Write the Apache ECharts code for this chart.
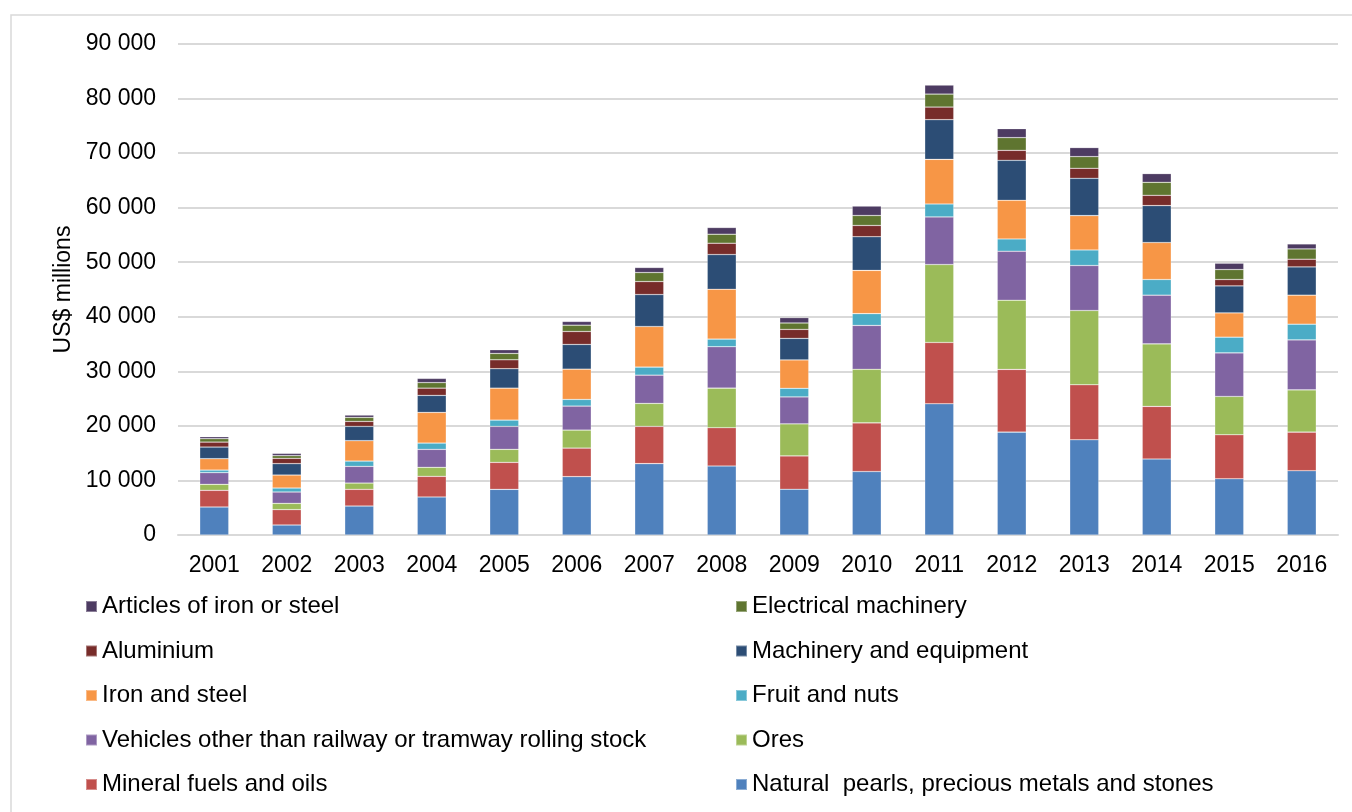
<!DOCTYPE html>
<html>
<head>
<meta charset="utf-8">
<script src="https://cdn.jsdelivr.net/npm/echarts@6/dist/echarts.min.js"></script>
<style>
html,body{margin:0;padding:0;background:#fff;}
#chart{width:1352px;height:812px;}
</style>
</head>
<body>
<div id="chart"></div>
<script>
const years = ['2001','2002','2003','2004','2005','2006','2007','2008','2009','2010','2011','2012','2013','2014','2015','2016'];
const yTicks = [0, 10000, 20000, 30000, 40000, 50000, 60000, 70000, 80000, 90000];

const naturalPearls = [5130,1830,5310,6960,8370,10700,13080,12640,8390,11630,24050,18860,17450,13920,10310,11780];
const mineralFuels  = [3060,2820,3060,3790,4940,5230,6830,7030,6110,8920,11240,11490,10080,9650,8060,7080];
const ores          = [1100,1150,1150,1650,2390,3300,4210,7250,5870,9820,14290,12690,13620,11470,7030,7750];
const vehicles      = [2140,2080,3060,3300,4210,4400,5180,7590,4940,8050,8720,8970,8250,8920,7990,9160];
const fruitNuts     = [470,730,970,1150,1150,1220,1470,1390,1580,2150,2380,2260,2850,2870,2870,2870];
const ironSteel     = [2090,2380,3740,5620,5860,5550,7450,9150,5200,7930,8180,7080,6300,6780,4450,5320];
const machinery     = [2130,2090,2620,3120,3560,4530,5860,6360,3950,6170,7270,7330,6830,6770,4950,5180];
const aluminium     = [910,970,910,1330,1640,2380,2380,2070,1650,2070,2310,1830,1840,1890,1170,1410];
const electrical    = [630,490,740,1010,1160,1150,1650,1650,1170,1830,2380,2330,2140,2380,1830,1890];
const articles      = [360,420,420,770,680,680,920,1230,980,1720,1650,1640,1650,1590,1160,910];

const seriesDefs = [
  {name:'Natural  pearls, precious metals and stones', data:naturalPearls, color:'#4F81BD'},
  {name:'Mineral fuels and oils', data:mineralFuels, color:'#C0504D'},
  {name:'Ores', data:ores, color:'#9BBB59'},
  {name:'Vehicles other than railway or tramway rolling stock', data:vehicles, color:'#8064A2'},
  {name:'Fruit and nuts', data:fruitNuts, color:'#4BACC6'},
  {name:'Iron and steel', data:ironSteel, color:'#F79646'},
  {name:'Machinery and equipment', data:machinery, color:'#2C4D75'},
  {name:'Aluminium', data:aluminium, color:'#772C2A'},
  {name:'Electrical machinery', data:electrical, color:'#5F7530'},
  {name:'Articles of iron or steel', data:articles, color:'#4D3B62'}
];

const legendLeft = ['Articles of iron or steel','Aluminium','Iron and steel','Vehicles other than railway or tramway rolling stock','Mineral fuels and oils'];
const legendRight = ['Electrical machinery','Machinery and equipment','Fruit and nuts','Ores','Natural  pearls, precious metals and stones'];

const FONT = 'Liberation Sans, Arial, sans-serif';
const FS = 23;

const chart = echarts.init(document.getElementById('chart'), null, {renderer:'canvas'});
const legendCommon = {
  orient:'vertical', top:594.5, padding:0, itemWidth:11, itemHeight:11, itemGap:20.5, icon:'rect',
  textStyle:{fontFamily:FONT, fontSize:24, color:'#000', lineHeight:24},
  selectedMode:false
};
chart.setOption({
  backgroundColor:'#fff',
  animation:false,
  graphic:[{type:'rect', shape:{x:11, y:15, width:1400, height:900}, style:{fill:'none', stroke:'#d9d9d9', lineWidth:1.5}, silent:true}],
  grid:{left:178, right:14, top:44, bottom:277, containLabel:false},
  legend:[
    Object.assign({left:85, data:legendLeft}, legendCommon),
    Object.assign({left:735, data:legendRight}, legendCommon)
  ],
  xAxis:{
    type:'category', data:years,
    axisLine:{lineStyle:{color:'#d9d9d9', width:2}},
    axisTick:{show:false},
    axisLabel:{fontFamily:FONT, fontSize:FS, color:'#000', margin:19}
  },
  yAxis:{
    type:'value', min:yTicks[0], max:yTicks[yTicks.length-1], interval:10000,
    name:'US$ millions', nameLocation:'middle', nameGap:103, nameRotate:90,
    nameTextStyle:{fontFamily:FONT, fontSize:FS, color:'#000'},
    axisLine:{show:false}, axisTick:{show:false},
    splitLine:{lineStyle:{color:'#d9d9d9', width:2}},
    axisLabel:{fontFamily:FONT, fontSize:FS, color:'#000', margin:22,
      formatter:function(v){return String(v).replace(/\B(?=(\d{3})+(?!\d))/g,' ');}}
  },
  series: seriesDefs.map(s => ({
    type:'bar', name:s.name, stack:'total', data:s.data,
    barCategoryGap:'60%',
    itemStyle:{color:s.color, borderColor:'rgba(255,255,255,0.35)', borderWidth:0.6}
  }))
});
</script>
</body>
</html>
